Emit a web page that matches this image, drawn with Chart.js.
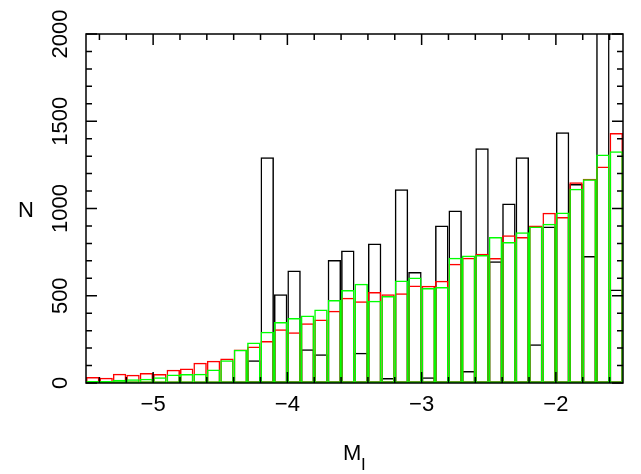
<!DOCTYPE html>
<html>
<head>
<meta charset="utf-8">
<script src="https://cdn.jsdelivr.net/npm/chart.js@4/dist/chart.umd.min.js"></script>
<style>
  html, body { margin: 0; padding: 0; background: #fff; }
  #c { display: block; }
</style>
</head>
<body>
<canvas id="c" width="641" height="474"></canvas>
<script>
// Bin centres of M_I (bin width 0.1)
const binCenters = [
  -5.45, -5.35, -5.25, -5.15, -5.05, -4.95, -4.85, -4.75, -4.65, -4.55,
  -4.45, -4.35, -4.25, -4.15, -4.05, -3.95, -3.85, -3.75, -3.65, -3.55,
  -3.45, -3.35, -3.25, -3.15, -3.05, -2.95, -2.85, -2.75, -2.65, -2.55,
  -2.45, -2.35, -2.25, -2.15, -2.05, -1.95, -1.85, -1.75, -1.65, -1.55
];
const blackN = [
  0, 0, 0, 0, 0, 0, 0, 0, 0, 0,
  8, 8, 130, 1293, 508, 644, 193, 165, 705, 759,
  174, 799, 29, 1111, 636, 33, 902, 989, 69, 1345,
  697, 1029, 1293, 222, 897, 1437, 1140, 728, 2400, 536
];
const redN = [
  35, 30, 53, 47, 58, 51, 76, 83, 116, 127,
  140, 192, 209, 241, 308, 291, 343, 364, 414, 489,
  469, 521, 508, 515, 559, 557, 586, 684, 718, 741,
  716, 847, 837, 902, 975, 952, 1151, 1170, 1241, 1433
];
const greenN = [
  12, 12, 18, 22, 24, 33, 49, 51, 53, 77,
  130, 190, 232, 293, 349, 372, 387, 421, 475, 533,
  569, 471, 498, 588, 605, 544, 550, 718, 730, 734,
  837, 808, 864, 897, 912, 977, 1113, 1167, 1310, 1328
];
const xTickLabels = [-5, -4, -3, -2];
const yTickLabels = [0, 500, 1000, 1500, 2000];
const xTitle = 'M';
const xTitleSub = 'I';
const yTitle = 'N';

const FONT = '"Liberation Sans", Arial, Helvetica, sans-serif';

function ds(label, values, color) {
  return {
    label,
    data: binCenters.map((x, i) => ({ x, y: values[i] })),
    backgroundColor: 'rgba(0,0,0,0)',
    borderColor: color,
    borderWidth: 1.5,
    borderSkipped: false,
    grouped: false,
    barPercentage: 1,
    categoryPercentage: 1,
    inflateAmount: 0
  };
}

const framePlugin = {
  id: 'frame',
  afterDraw(chart) {
    const { ctx, chartArea: a, scales: { x, y } } = chart;
    ctx.save();
    ctx.strokeStyle = '#000';
    ctx.lineWidth = 1.5;
    ctx.strokeRect(a.left, a.top, a.right - a.left, a.bottom - a.top);
    // x ticks (top and bottom, inward), minor every 0.2, major at integers
    ctx.beginPath();
    for (let k = 0; k < 20; k++) {
      const v = x.min + 0.1 + k * 0.2;
      if (v > x.max) break;
      const px = x.getPixelForValue(v);
      const major = Math.abs(v - Math.round(v)) < 1e-6;
      const len = major ? 11 : 6;
      ctx.moveTo(px, a.bottom); ctx.lineTo(px, a.bottom - len);
      ctx.moveTo(px, a.top); ctx.lineTo(px, a.top + len);
    }
    // y ticks (left and right, inward)
    for (let v = 0; v <= 2000; v += 100) {
      const py = y.getPixelForValue(v);
      const len = v % 500 === 0 ? 11 : 6;
      ctx.moveTo(a.left, py); ctx.lineTo(a.left + len, py);
      ctx.moveTo(a.right, py); ctx.lineTo(a.right - len, py);
    }
    ctx.stroke();

    ctx.fillStyle = '#000';
    ctx.font = '22px ' + FONT;
    ctx.textAlign = 'center';
    ctx.textBaseline = 'middle';
    xTickLabels.forEach(v => {
      ctx.fillText('\u2212' + Math.abs(v), x.getPixelForValue(v), 405);
    });
    yTickLabels.forEach(v => {
      ctx.save();
      ctx.translate(61, y.getPixelForValue(v));
      ctx.rotate(-Math.PI / 2);
      ctx.fillText(String(v), 0, 0);
      ctx.restore();
    });
    // axis titles
    ctx.fillText(yTitle, 26, 211);
    ctx.textAlign = 'left';
    ctx.textBaseline = 'alphabetic';
    ctx.font = '22px ' + FONT;
    ctx.fillText(xTitle, 343, 460);
    ctx.font = '17px ' + FONT;
    ctx.fillText(xTitleSub, 361, 470);
    ctx.restore();
  }
};

new Chart(document.getElementById('c'), {
  type: 'bar',
  data: {
    datasets: [
      ds('green', greenN, '#00ff00'),
      ds('red', redN, '#ff0000'),
      ds('black', blackN, '#000000')
    ]
  },
  options: {
    responsive: false,
    animation: false,
    layout: { padding: { top: 34, right: 18, left: 0, bottom: 0 } },
    plugins: { legend: { display: false }, tooltip: { enabled: false } },
    scales: {
      x: {
        type: 'linear', min: -5.5, max: -1.5, offset: false,
        ticks: { display: false }, grid: { display: false }, border: { display: false },
        afterFit(s) { s.height = 91; }
      },
      y: {
        min: 0, max: 2000,
        ticks: { display: false }, grid: { display: false }, border: { display: false },
        afterFit(s) { s.width = 86; }
      }
    }
  },
  plugins: [framePlugin]
});
</script>
</body>
</html>
